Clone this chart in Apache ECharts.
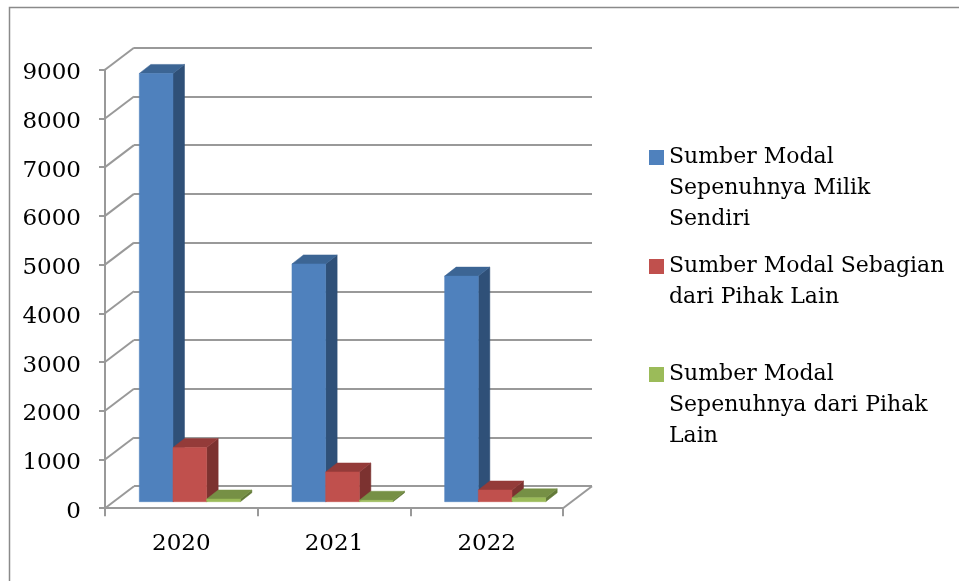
<!DOCTYPE html>
<html><head><meta charset="utf-8">
<style>html,body{margin:0;padding:0;background:#fff}#c{width:959px;height:581px}</style>
<script src="https://cdn.jsdelivr.net/npm/echarts@6/dist/echarts.min.js"></script>
</head><body><div id="c"></div>
<script>
var years = ['2020', '2021', '2022'];
var milikSendiri = [8790, 4880, 4630];
var sebagian = [1110, 610, 240];
var pihakLain = [55, 30, 80];
var yTicks = [0, 1000, 2000, 3000, 4000, 5000, 6000, 7000, 8000, 9000];
var names = ['Sumber Modal Sepenuhnya Milik Sendiri', 'Sumber Modal Sebagian dari Pihak Lain', 'Sumber Modal Sepenuhnya dari Pihak Lain'];
var labelsWrapped = ['Sumber Modal\nSepenuhnya Milik\nSendiri', 'Sumber Modal Sebagian\ndari Pihak Lain', 'Sumber Modal\nSepenuhnya dari Pihak\nLain'];

var FONT = 'DejaVu Serif', FS = 22, AXFS = 23;
var wall = {dx: 29, dy: -22}, base = {dx: 8.5, dy: -6.5}, depth = {dx: 11.5, dy: -9};
var GRID = {left: 105, top: 69.7, width: 458, height: 438.5};
var LINE = '#999999';
var GAP = 0.169;

function poly(pts, fill) {
  return {type: 'polygon', shape: {points: pts}, style: {fill: fill, stroke: fill, lineWidth: 0.5}};
}
function barItem(idx, cols) {
  return function (params, api) {
    var cat = api.value(0), val = api.value(1);
    var band = api.size([1, 0])[0];
    var w = band * (1 - 2 * GAP) / 3;
    var start = api.coord([cat, 0]);
    var topPt = api.coord([cat, val]);
    var x0 = start[0] - band / 2 + band * GAP + idx * w + base.dx;
    var x1 = x0 + w;
    var yB = start[1] + base.dy, yT = topPt[1] + base.dy;
    return {type: 'group', children: [
      poly([[x1, yB], [x1 + depth.dx, yB + depth.dy], [x1 + depth.dx, yT + depth.dy], [x1, yT]], cols[2]),
      poly([[x0, yT], [x1, yT], [x1 + depth.dx, yT + depth.dy], [x0 + depth.dx, yT + depth.dy]], cols[1]),
      poly([[x0, yB], [x1, yB], [x1, yT], [x0, yT]], cols[0])
    ]};
  };
}
function barSeries(name, values, idx, cols) {
  return {
    type: 'custom', name: name, xAxisIndex: 0, yAxisIndex: 0, z: 5 + idx,
    itemStyle: {color: cols[0]},
    encode: {x: 0, y: 1},
    data: values.map(function (v, i) { return [i, v]; }),
    renderItem: barItem(idx, cols),
    clip: false
  };
}
function wallLine(a, b) {
  return {type: 'line', shape: {x1: a[0], y1: a[1], x2: b[0], y2: b[1]}, style: {stroke: LINE, lineWidth: 2}};
}
function legendFor(i, top, h) {
  return {
    show: true, left: 649, top: top, orient: 'vertical', selectedMode: false,
    data: [{name: names[i], icon: 'path://M0,0L15,0ZM0,8H15V23H0ZM0,' + h + 'L15,' + h + 'Z'}],
    itemWidth: 15, itemHeight: h, itemGap: 0,
    formatter: function () { return labelsWrapped[i]; },
    textStyle: {fontFamily: FONT, fontSize: FS, color: '#000', lineHeight: 31, padding: [3, 0, 0, 0]},
    padding: 0
  };
}

var chart = echarts.init(document.getElementById('c'));
chart.setOption({
  animation: false,
  backgroundColor: '#fff',
  graphic: [{type: 'rect', shape: {x: 9.5, y: 7.5, width: 1000, height: 650}, style: {fill: 'none', stroke: '#8a8a8a', lineWidth: 1.5}, silent: true, z: -1}],
  legend: [legendFor(0, 140.5, 93), legendFor(1, 249.5, 62), legendFor(2, 357.5, 93)],
  grid: [
    GRID,
    {left: GRID.left + wall.dx, top: GRID.top + wall.dy, width: GRID.width, height: GRID.height}
  ],
  xAxis: [
    {type: 'category', gridIndex: 0, data: years, boundaryGap: true,
     axisLine: {lineStyle: {color: LINE, width: 2}},
     axisTick: {show: true, alignWithLabel: false, length: 8, lineStyle: {color: LINE, width: 2}},
     axisLabel: {fontFamily: FONT, fontSize: AXFS, color: '#000', margin: 24}},
    {type: 'category', gridIndex: 1, data: years, show: false}
  ],
  yAxis: [
    {type: 'value', gridIndex: 0, min: 0, max: 9000, interval: 1000,
     splitLine: {show: false},
     axisLine: {show: true, lineStyle: {color: LINE, width: 2}},
     axisTick: {show: true, length: 6, lineStyle: {color: LINE, width: 2}},
     axisLabel: {color: '#000', margin: 24,
       formatter: function (v) { return '{t|' + v + '}'; },
       rich: {t: {fontFamily: FONT, fontSize: AXFS, color: '#000', padding: [7, 0, 0, 0]}}}},
    {type: 'value', gridIndex: 1, min: 0, max: 9000, interval: 1000,
     axisLine: {show: false}, axisTick: {show: false}, axisLabel: {show: false},
     splitLine: {show: true, lineStyle: {color: LINE, width: 2}}}
  ],
  series: [
    {type: 'custom', xAxisIndex: 0, yAxisIndex: 0, z: 1, silent: true, clip: false,
     data: yTicks.map(function (t) { return [0, t]; }),
     encode: {x: 0, y: 1},
     renderItem: function (params, api) {
       var y = api.coord([0, api.value(1)])[1];
       var cs = params.coordSys;
       var kids = [wallLine([cs.x, y], [cs.x + wall.dx, y + wall.dy])];
       if (api.value(1) === 0) kids.push(wallLine([cs.x + cs.width, y], [cs.x + cs.width + wall.dx, y + wall.dy]));
       return {type: 'group', children: kids};
     }},
    barSeries(names[0], milikSendiri, 0, ['#4F81BD', '#3C6594', '#2F5078']),
    barSeries(names[1], sebagian, 1, ['#C0504D', '#943B39', '#7C3230']),
    barSeries(names[2], pihakLain, 2, ['#9BBB59', '#769045', '#637A39'])
  ]
});
</script></body></html>
